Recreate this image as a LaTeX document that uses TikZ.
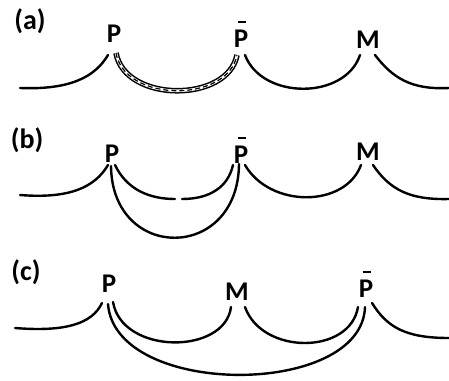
\documentclass[tikz,border=0pt]{standalone}
\usepackage{fontspec}
\setmainfont{Carlito}
\newcommand{\pbar}{\makebox[0pt][l]{\hspace{0.14em}\raisebox{0.9em}{\rule{0.32em}{0.08em}}}P}
\begin{document}
\begin{tikzpicture}[x=1pt,y=-1pt,
  lbl/.style={font=\fontsize{27}{30}\selectfont\bfseries, inner sep=0pt, anchor=base},
  plbl/.style={font=\fontsize{28}{31}\selectfont\bfseries, inner sep=0pt},
  arcline/.style={line width=2.4pt, line cap=round},
  hatchband/.style={double=white, double distance=2.6pt, line width=1.5pt},
  hatchfill/.style={line width=1.2pt, dash pattern=on 5pt off 3pt}]
\useasboundingbox (0,0) rectangle (449,380);
% ---------- (a)
\node[plbl] (la) at (30,21) {(a)};
\node[lbl] (pa) at (114,42) {P};
\node[lbl] (qa) at (241,47) {\pbar};
\node[lbl] (ma) at (368,48) {M};
\coordinate (a0) at (20,88);
\coordinate (aP1) at (108,55);
\coordinate (aP2) at (116,53);
\coordinate (aQ1) at (237,55);
\coordinate (aQ2) at (245,55);
\coordinate (aM1) at (360,55);
\coordinate (aM2) at (375,55);
\coordinate (a9) at (449,88);
\draw[arcline] (a0) .. controls (70,90) and (95,77) .. (aP1);
\draw[hatchband] (aP2) .. controls (125,103) and (228,103) .. (aQ1);
\draw[hatchfill] (aP2) .. controls (125,103) and (228,103) .. (aQ1);
\draw[arcline] (aQ2) .. controls (262,100) and (345,100) .. (aM1);
\draw[arcline] (aM2) .. controls (392,77) and (410,90) .. (a9);
% ---------- (b)
\node[plbl] (lb) at (27,140) {(b)};
\node[lbl] (pb) at (112,162) {P};
\node[lbl] (qb) at (241,163) {\pbar};
\node[lbl] (mb) at (368,160) {M};
\coordinate (b0) at (20,195);
\coordinate (bP1) at (108,165);
\coordinate (bP2) at (115,165);
\coordinate (bP3) at (111,166);
\coordinate (bg1) at (175,199);
\coordinate (bg2) at (182,199);
\coordinate (bQ1) at (233,165);
\coordinate (bQ0) at (239,164);
\coordinate (bQ2) at (245,165);
\coordinate (bM1) at (361,165);
\coordinate (bM2) at (373,165);
\coordinate (b9) at (449,199);
\draw[arcline] (b0) .. controls (70,199) and (95,187) .. (bP1);
\draw[arcline] (bP2) .. controls (127,190) and (150,199) .. (bg1);
\draw[arcline] (bg2) .. controls (210,199) and (228,187) .. (bQ1);
\draw[arcline] (bP3) .. controls (112,262) and (238,262) .. (bQ0);
\draw[arcline] (bQ2) .. controls (270,208) and (345,208) .. (bM1);
\draw[arcline] (bM2) .. controls (390,190) and (410,200) .. (b9);
% ---------- (c)
\node[plbl] (lc) at (26,272) {(c)};
\node[lbl] (pc) at (109,292) {P};
\node[lbl] (mc) at (237,300) {M};
\node[lbl] (qc) at (366,297) {\pbar};
\coordinate (c0) at (15,328);
\coordinate (cP1) at (102,303);
\coordinate (cP2) at (113,302);
\coordinate (cP3) at (108,304);
\coordinate (cM1) at (231,307);
\coordinate (cM2) at (245,307);
\coordinate (cQ1) at (358,307);
\coordinate (cQ0) at (365,307);
\coordinate (cQ2) at (372,303);
\coordinate (c9) at (449,338);
\draw[arcline] (c0) .. controls (65,332) and (92,324) .. (cP1);
\draw[arcline] (cP2) .. controls (122,355) and (225,355) .. (cM1);
\draw[arcline] (cM2) .. controls (262,355) and (350,355) .. (cQ1);
\draw[arcline] (cP3) .. controls (115,398) and (362,398) .. (cQ0);
\draw[arcline] (cQ2) .. controls (387,327) and (405,338) .. (c9);
\end{tikzpicture}
\end{document}
